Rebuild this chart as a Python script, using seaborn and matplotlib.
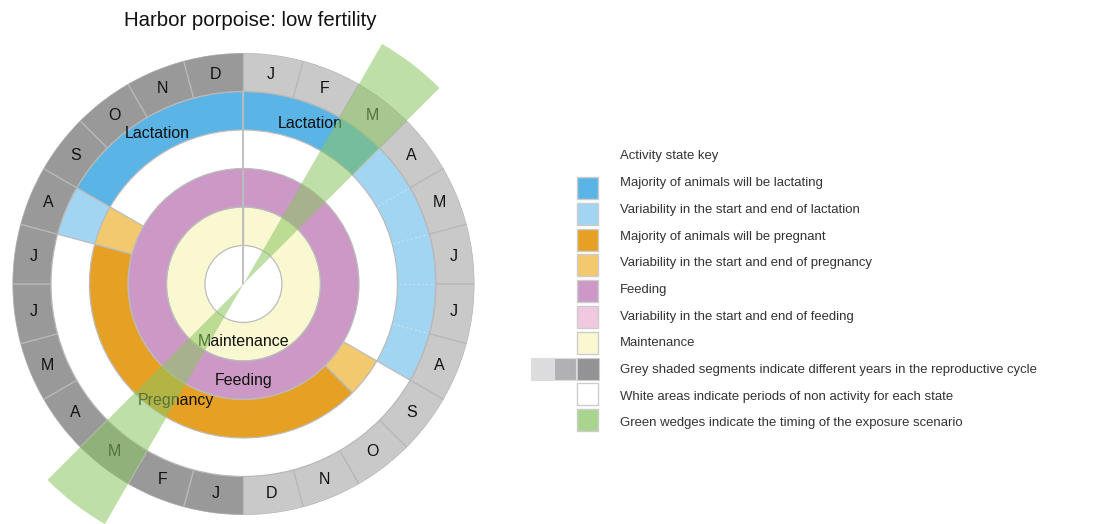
import numpy as np
import matplotlib
matplotlib.use("Agg")
import matplotlib.pyplot as plt
from matplotlib.patches import Rectangle
import seaborn as sns

title = "Harbor porpoise: low fertility"

# two years of months, clockwise from the top
month_labels = ['J', 'F', 'M', 'A', 'M', 'J', 'J', 'A', 'S', 'O', 'N', 'D'] * 2
month_year = [1] * 12 + [2] * 12

# (start month, end month, kind) for each activity ring
lactation = [(0, 3, 'major'), (3, 8, 'var'), (19, 20, 'var'), (20, 24, 'major')]
pregnancy = [(8, 9, 'var'), (9, 19, 'major'), (19, 20, 'var')]
feeding = [(0, 24, 'major')]
maintenance = [(0, 24, 'major')]
exposure_months = [2, 14]

# ring labels: (text, ring name, month position)
ring_labels = [('Lactation', 'lactation', 1.5), ('Lactation', 'lactation', 22.0),
               ('Pregnancy', 'pregnancy', 14.0), ('Feeding', 'feeding', 12.0),
               ('Maintenance', 'maintenance', 12.0)]

legend_title = "Activity state key"
legend_labels = ["Majority of animals will be lactating",
                 "Variability in the start and end of lactation",
                 "Majority of animals will be pregnant",
                 "Variability in the start and end of pregnancy",
                 "Feeding",
                 "Variability in the start and end of feeding",
                 "Maintenance",
                 "Grey shaded segments indicate different years in the reproductive cycle",
                 "White areas indicate periods of non activity for each state",
                 "Green wedges indicate the timing of the exposure scenario"]
legend_colors = ['#5ab4e5', '#a1d5f2', '#e6a024', '#f2c96f', '#cc99c6',
                 '#f0c9e1', '#faf8d0', '#939395', '#ffffff', '#a9d48e']
grey_shades = ['#dcdcde', '#b1b1b3', '#939395']

ring_colors = {
    'lactation': {'major': '#5ab4e5', 'var': '#a1d5f2'},
    'pregnancy': {'major': '#e6a024', 'var': '#f2c96f'},
    'feeding': {'major': '#cc99c6', 'var': '#f0c9e1'},
    'maintenance': {'major': '#faf8d0', 'var': '#faf8d0'},
}
year_colors = {1: '#c9c9c9', 2: '#999999'}
wedge_color = '#8cc561'
edge = '#bcbcbc'

sns.set_style("white")
plt.rcParams['font.family'] = ['Liberation Sans', 'DejaVu Sans']

fig = plt.figure(figsize=(10.95, 5.24), dpi=100)

# overlay in pixel units for title and legend
leg = fig.add_axes([0, 0, 1, 1])
leg.set_xlim(0, 1095)
leg.set_ylim(524, 0)
leg.axis('off')

ax = fig.add_axes([0.0114, 0.0172, 0.4219, 0.8817], projection='polar')
ax.set_theta_zero_location('N')
ax.set_theta_direction(-1)
ax.set_ylim(0, 6)
ax.axis('off')

step = 2 * np.pi / 24
rings = {'maintenance': (1, maintenance), 'feeding': (2, feeding),
         'pregnancy': (3, pregnancy), 'lactation': (4, lactation)}

for name, (base, segs) in rings.items():
    for start, end, kind in segs:
        ax.bar((start + end) / 2 * step, 1, width=(end - start) * step, bottom=base,
               color=ring_colors[name][kind], edgecolor=edge, linewidth=0.9, zorder=1)
        if kind == 'var':
            for m in range(start + 1, end):
                ax.plot([m * step, m * step], [base + 0.03, base + 0.97], color='white',
                        lw=0.8, ls=(0, (2, 2)), alpha=0.35, zorder=1.5)

# month ring
for i, (lab, yr) in enumerate(zip(month_labels, month_year)):
    ax.bar((i + 0.5) * step, 1, width=step, bottom=5, color=year_colors[yr],
           edgecolor='#b8b8b8', linewidth=0.9, zorder=1)
    ax.text((i + 0.5) * step, 5.5, lab, ha='center', va='center', fontsize=11.5,
            color='#111111', zorder=3)

# start line
ax.plot([0, 0], [0, 5], color=edge, lw=1.3, zorder=2)

for txt, ring, pos in ring_labels:
    ax.text(pos * step, rings[ring][0] + 0.5, txt, ha='center', va='center',
            fontsize=11.5, color='#111111', zorder=3)

# exposure wedges
for m in exposure_months:
    ax.bar((m + 0.5) * step, 7.2, width=step, bottom=0, color=wedge_color,
           alpha=0.55, edgecolor='none', zorder=4, clip_on=False)

# title
leg.text(250, 20, title, ha='center', va='center', fontsize=14.7, color='#111111')

# legend
leg.text(620, 156, legend_title, ha='left', va='center', fontsize=9.45, color='#333333')
for i, (lab, col) in enumerate(zip(legend_labels, legend_colors)):
    ty = 183.3 + 26.67 * i
    sy = 188 + 25.8 * i
    if i == 7:
        for j, g in enumerate(grey_shades):
            leg.add_patch(Rectangle((531 + j * 23, sy - 11), 22, 22, facecolor=g,
                                    edgecolor='#dddddd' if j < 2 else '#cccccc', lw=0.8))
    else:
        leg.add_patch(Rectangle((577, sy - 11), 21, 22, facecolor=col,
                                edgecolor='#cccccc', lw=1.0))
    leg.text(620, ty, lab, ha='left', va='center', fontsize=9.45, color='#333333')

fig.savefig("out.png", dpi=100)
